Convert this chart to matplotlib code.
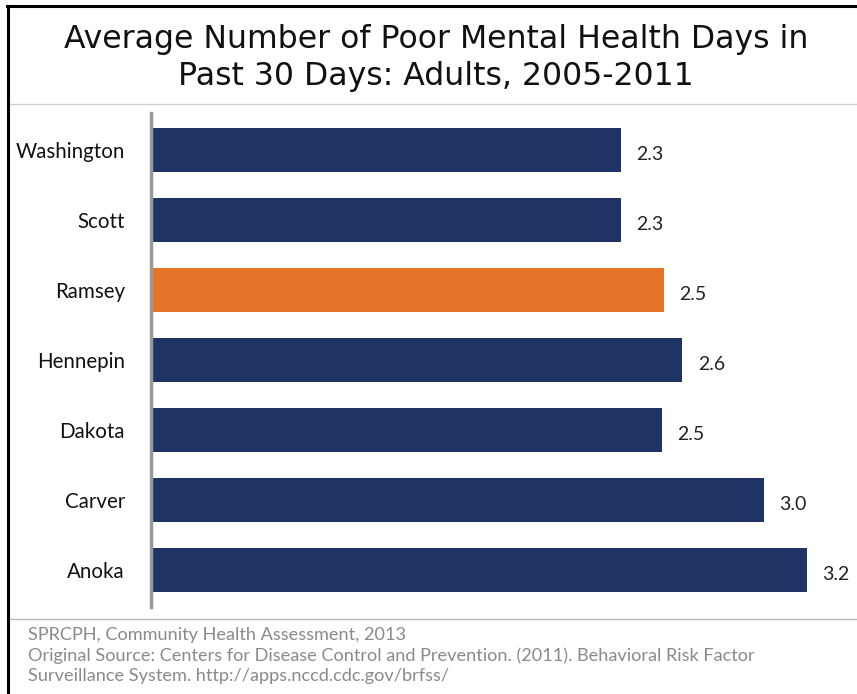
import matplotlib
matplotlib.use("Agg")
import matplotlib.pyplot as plt
from matplotlib.lines import Line2D

counties = ["Washington", "Scott", "Ramsey", "Hennepin", "Dakota", "Carver", "Anoka"]
values = [2.3, 2.3, 2.51, 2.6, 2.5, 3.0, 3.21]
labels = ["2.3", "2.3", "2.5", "2.6", "2.5", "3.0", "3.2"]
highlight = "Ramsey"

title = "Average Number of Poor Mental Health Days in\nPast 30 Days: Adults, 2005-2011"
footer = ["SPRCPH, Community Health Assessment, 2013",
          "Original Source: Centers for Disease Control and Prevention. (2011). Behavioral Risk Factor",
          "Surveillance System. http://apps.nccd.cdc.gov/brfss/"]

NAVY = "#1F3364"
ORANGE = "#E57428"

W, H = 857, 694
fig = plt.figure(figsize=(W / 100, H / 100), dpi=100)
fig.patch.set_facecolor("white")

def fx(px):
    return px / W

def fy(py):
    return 1 - py / H

# axes: x from 152 px to 854 px, y from 113 to 607 px
ax = fig.add_axes([fx(152), fy(607), fx(854) - fx(152), fy(113) - fy(607)])
n = len(counties)
ypos = list(range(n))
colors = [ORANGE if c == highlight else NAVY for c in counties]
ax.barh(ypos, values, height=0.64, color=colors, edgecolor="none")
ax.set_xlim(0, (854 - 152) / 204.0)
ax.set_ylim(n - 0.47, -0.53)
ax.set_yticks(ypos)
ax.set_yticklabels(counties, fontsize=14.8, family="Lato", color="#111111")
ax.tick_params(axis="y", length=0, pad=19.5)
ax.set_xticks([])
for s in ["top", "right", "bottom", "left"]:
    ax.spines[s].set_visible(False)

for y, v, lab in zip(ypos, values, labels):
    ax.annotate(lab, (v, y), xytext=(11, -3), textcoords="offset points",
                ha="left", va="center", fontsize=14, family="Lato", color="#222222")

# axis line (gray, slightly left of bars)
fig.add_artist(Line2D([fx(150.5), fx(150.5)], [fy(113), fy(607)], color="#999999", lw=2.5))

# title
fig.text(fx(436), fy(58), title, ha="center", va="center", fontsize=22.7,
         family="DejaVu Sans", color="#111111", linespacing=1.22)

# separators
fig.add_artist(Line2D([fx(9), 1], [fy(104), fy(104)], color="#d0d0d0", lw=1))
fig.add_artist(Line2D([fx(9), 1], [fy(619), fy(619)], color="#bbbbbb", lw=1))

# border lines
fig.add_artist(Line2D([fx(7), 1], [fy(5.5), fy(5.5)], color="black", lw=2.2))
fig.add_artist(Line2D([fx(8), fx(8)], [fy(5.5), 0], color="black", lw=2.2))

# footer
for i, line in enumerate(footer):
    fig.text(fx(28), fy(635 + 20.5 * i), line, ha="left", va="center",
             fontsize=13.1, family="Lato", color="#8a8a8a")

fig.savefig("out.png", dpi=100)
